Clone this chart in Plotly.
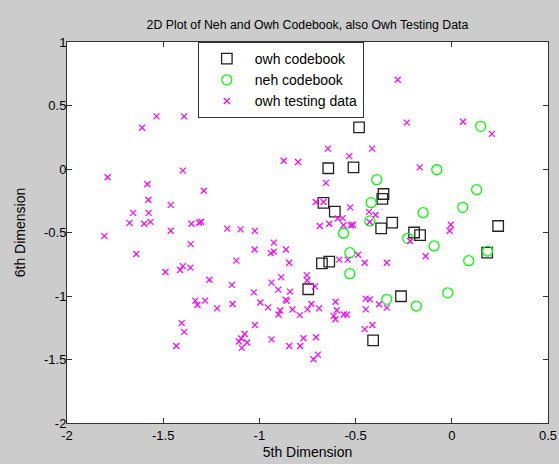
import plotly.graph_objects as go

# owh codebook (squares)
owh_cb_x = [-0.482, -0.642, -0.511, -0.355, -0.361, -0.667, -0.608, -0.310, -0.367,
            -0.196, -0.165, 0.241, 0.184, -0.675, -0.637, -0.746, -0.264, -0.409]
owh_cb_y = [0.328, 0.006, 0.013, -0.197, -0.236, -0.266, -0.336, -0.423, -0.467,
            -0.500, -0.520, -0.449, -0.659, -0.743, -0.730, -0.947, -1.002, -1.349]

# neh codebook (circles)
neh_cb_x = [0.150, -0.078, -0.390, 0.129, -0.419, 0.057, -0.149, -0.426, -0.563,
            -0.229, -0.092, -0.530, 0.186, 0.088, -0.530, -0.021, -0.338, -0.184]
neh_cb_y = [0.336, -0.006, -0.084, -0.163, -0.265, -0.302, -0.344, -0.409, -0.506,
            -0.546, -0.606, -0.659, -0.646, -0.722, -0.824, -0.975, -1.026, -1.079]

# owh testing data (x markers)
test_x = [-1.535, -1.391, -1.610, -1.398, -1.789, -1.582, -1.289, -1.577, -1.461, -1.656,
          -1.576, -1.675, -1.599, -1.566, -1.461, -1.353, -1.313, -1.303, -1.167, -1.098,
          -1.024, -1.806, -1.357, -1.640, -1.398, -1.412, -1.359, -1.488, -1.260, -1.333,
          -1.322, -1.282, -1.220, -1.404, -1.391, -1.432, -1.025, -1.120, -0.925, -0.941,
          -0.925, -0.862, -0.845, -0.887, -0.937, -0.902, -0.841, -1.143, -1.029, -0.995,
          -0.955, -1.139, -0.863, -0.858, -0.892, -0.901, -0.828, -0.790, -1.023, -1.077,
          -1.094, -1.107, -1.064, -1.091, -0.937, -0.845, -0.788, -0.771, -0.754, -0.751,
          -0.750, -0.730, -0.690, -0.711, -0.604, -0.598, -0.614, -0.605, -0.562, -0.545,
          -0.706, -0.696, -0.719, -0.686, -0.637, -0.593, -0.567, -0.563, -0.525, -0.514,
          -0.585, -0.541, -0.487, -0.874, -0.799, -0.644, -0.533, -0.654, -0.707, -0.667,
          -0.528, -0.513, -0.281, -0.234, 0.058, 0.208, -0.414, -0.167, -0.430, -0.396,
          -0.427, -0.005, -0.011, -0.217, -0.136, -0.453, -0.338, -0.448, -0.426, -0.378,
          -0.338, -0.447, -0.413, -0.453]
test_y = [0.415, 0.415, 0.325, -0.013, -0.065, -0.120, -0.171, -0.242, -0.283, -0.346,
          -0.346, -0.424, -0.431, -0.416, -0.486, -0.431, -0.423, -0.415, -0.469, -0.476,
          -0.487, -0.529, -0.591, -0.669, -0.765, -0.795, -0.776, -0.811, -0.872, -1.037,
          -1.071, -1.037, -1.098, -1.213, -1.283, -1.394, -0.634, -0.722, -0.580, -0.663,
          -0.650, -0.634, -0.738, -0.852, -0.895, -0.950, -0.966, -0.913, -0.972, -1.051,
          -1.089, -1.063, -1.029, -1.039, -1.114, -1.146, -1.106, -1.151, -1.228, -1.299,
          -1.335, -1.358, -1.366, -1.409, -1.341, -1.394, -1.394, -1.333, -0.835, -0.878,
          -1.105, -1.063, -1.098, -0.924, -1.045, -1.112, -1.157, -1.183, -1.146, -1.147,
          -1.325, -1.461, -1.498, -0.449, -0.431, -0.390, -0.387, -0.443, -0.443, -0.439,
          -0.714, -0.714, -0.675, 0.065, 0.055, 0.161, 0.101, -0.109, -0.260, -0.260,
          -0.302, 0.465, 0.703, 0.365, 0.372, 0.276, 0.161, 0.013, -0.337, -0.362,
          -0.417, -0.439, -0.486, -0.567, -0.687, -0.738, -0.738, -1.021, -1.026, -1.065,
          -1.091, -1.105, -1.228, -1.261]

x_ticks = [-2, -1.5, -1, -0.5, 0, 0.5]
y_ticks = [-2, -1.5, -1, -0.5, 0, 0.5, 1]

FONT = "Arial, Liberation Sans, sans-serif"

fig = go.Figure()
fig.add_trace(go.Scatter(
    x=owh_cb_x, y=owh_cb_y, mode="markers", name="owh codebook",
    marker=dict(symbol="square-open", size=10.5, color="#222222", line=dict(width=1.3))))
fig.add_trace(go.Scatter(
    x=neh_cb_x, y=neh_cb_y, mode="markers", name="neh codebook",
    marker=dict(symbol="circle-open", size=10, color="#00ff00", line=dict(width=1.3))))
fig.add_trace(go.Scatter(
    x=test_x, y=test_y, mode="markers", name="owh testing data",
    marker=dict(symbol="x-thin", size=6, color="#ff00ff", line=dict(width=1.2, color="#ff00ff"))))

axis_common = dict(showgrid=False, zeroline=False, showline=True, linecolor="#333333",
                   linewidth=1, mirror="allticks", ticks="inside", ticklen=5,
                   tickcolor="#333333", automargin=False,
                   tickfont=dict(family=FONT, size=13, color="black"))

fig.update_layout(
    width=559, height=464,
    paper_bgcolor="#cccccc", plot_bgcolor="white",
    margin=dict(l=67, r=11, t=42, b=41),
    title=dict(text="2D Plot of Neh and Owh Codebook, also Owh Testing Data",
               font=dict(family=FONT, size=12.3, color="black"),
               x=0.55, xanchor="center", y=0.946, yanchor="middle"),
    xaxis=dict(range=[-2, 0.5], tickvals=x_ticks,
               ticktext=[f"{v:g}" for v in x_ticks],
               title=dict(text="5th Dimension", font=dict(family=FONT, size=14, color="black"), standoff=5),
               **axis_common),
    yaxis=dict(range=[-2, 1], tickvals=y_ticks,
               ticktext=[f"{v:g}" for v in y_ticks],
               ticklabelstandoff=-3,
               title=dict(text="6th Dimension", font=dict(family=FONT, size=14, color="black"), standoff=15),
               **axis_common),
    legend=dict(x=0.272, y=1, xanchor="left", yanchor="top",
                bgcolor="white", bordercolor="#333333", borderwidth=1,
                font=dict(family=FONT, size=14, color="black"), itemwidth=46),
    showlegend=True,
)

fig.write_html("out.html", config={"displayModeBar": False},
               post_script="document.body.style.margin='0';document.body.style.overflow='hidden';")
